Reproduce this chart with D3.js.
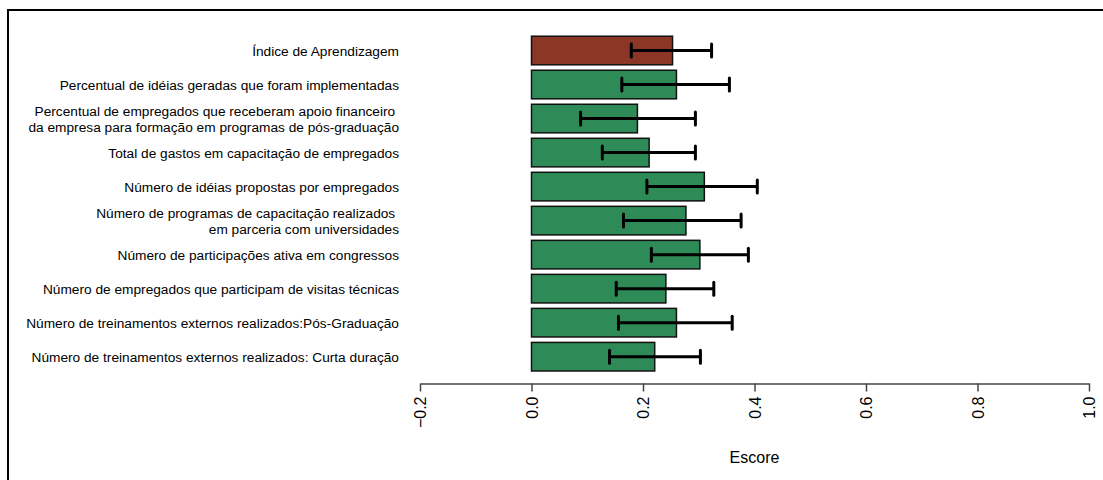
<!DOCTYPE html>
<html>
<head>
<meta charset="utf-8">
<script src="https://cdn.jsdelivr.net/npm/d3@7"></script>
<style>
  html, body { margin: 0; padding: 0; background: #fff; }
  svg { display: block; }
  text { font-family: "Liberation Sans", Arial, sans-serif; }
</style>
</head>
<body>
<svg id="chart" width="1103" height="480"></svg>
<script>
// Indicators, from top to bottom (line breaks split long labels)
const categories = [
  "Índice de Aprendizagem",
  "Percentual de idéias geradas que foram implementadas",
  "Percentual de empregados que receberam apoio financeiro \nda empresa para formação em programas de pós-graduação",
  "Total de gastos em capacitação de empregados",
  "Número de idéias propostas por empregados",
  "Número de programas de capacitação realizados \nem parceria com universidades",
  "Número de participações ativa em congressos",
  "Número de empregados que participam de visitas técnicas",
  "Número de treinamentos externos realizados:Pós-Graduação",
  "Número de treinamentos externos realizados: Curta duração"
];

// Score of each indicator and its interval limits
const scores = [0.253, 0.260, 0.190, 0.211, 0.310, 0.277, 0.302, 0.241, 0.260, 0.221];
const lower  = [0.179, 0.162, 0.088, 0.127, 0.207, 0.165, 0.215, 0.152, 0.156, 0.140];
const upper  = [0.323, 0.355, 0.294, 0.294, 0.405, 0.376, 0.389, 0.327, 0.360, 0.303];

const tickValues = [-0.2, 0.0, 0.2, 0.4, 0.6, 0.8, 1.0];
const axisTitle = "Escore";

const svg = d3.select("#chart");

// Outer frame
svg.append("path")
  .attr("d", "M1103,10 H8 V480")
  .attr("fill", "none")
  .attr("stroke", "#000")
  .attr("stroke-width", 2);

const x = d3.scaleLinear().domain([-0.2, 1.0]).range([420, 1089]);
const y = d3.scaleBand()
  .domain(categories)
  .range([33.5, 373.7])
  .paddingInner(0.16)
  .paddingOuter(0.08);

const rows = categories.map((c, i) => ({
  label: c, score: scores[i], lo: lower[i], hi: upper[i], first: i === 0
}));

// Bars
svg.append("g").selectAll("rect")
  .data(rows)
  .join("rect")
  .attr("x", d => x(0))
  .attr("y", d => y(d.label))
  .attr("width", d => x(d.score) - x(0))
  .attr("height", y.bandwidth())
  .attr("fill", d => d.first ? "#8B3626" : "#2E8B57")
  .attr("stroke", "#111")
  .attr("stroke-width", 1.5);

// Interval whiskers
const whisk = svg.append("g").attr("stroke", "#000").attr("stroke-width", 3);
rows.forEach(d => {
  const cy = y(d.label) + y.bandwidth() / 2;
  whisk.append("line").attr("x1", x(d.lo)).attr("x2", x(d.hi)).attr("y1", cy).attr("y2", cy);
  [d.lo, d.hi].forEach(v => {
    whisk.append("line")
      .attr("x1", x(v)).attr("x2", x(v))
      .attr("y1", cy - 6.5).attr("y2", cy + 6.5)
      .attr("stroke-linecap", "round");
  });
});

// Category labels, right aligned next to the bars
const labels = svg.append("g");
rows.forEach(d => {
  const lines = d.label.split("\n");
  const cy = y(d.label) + y.bandwidth() / 2 + 0.5;
  const lh = 15.5;
  const t = labels.append("text")
    .attr("text-anchor", "end")
    .attr("font-size", 13.7)
    .attr("fill", "#000")
    .style("white-space", "pre");
  lines.forEach((ln, k) => {
    t.append("tspan")
      .attr("x", 399)
      .attr("y", cy + (k - (lines.length - 1) / 2) * lh)
      .attr("dy", "0.35em")
      .text(ln);
  });
});

// Horizontal axis with rotated tick labels
const axis = svg.append("g")
  .attr("transform", "translate(0,383.5)")
  .call(d3.axisBottom(x).tickValues(tickValues).tickFormat(d3.format(".1f")).tickSize(8).tickSizeOuter(0));
axis.select(".domain").attr("stroke", "#444").attr("stroke-width", 1.5);
axis.selectAll(".tick line").attr("stroke", "#444").attr("stroke-width", 1.5);
axis.selectAll(".tick text")
  .attr("font-size", 16)
  .attr("font-family", "Liberation Sans, Arial, sans-serif")
  .attr("fill", "#000")
  .attr("transform", "rotate(-90)")
  .attr("text-anchor", "end")
  .attr("x", -13)
  .attr("y", 0)
  .attr("dy", "0.35em");

svg.append("text")
  .attr("x", x(0.4))
  .attr("y", 463)
  .attr("text-anchor", "middle")
  .attr("font-size", 16)
  .text(axisTitle);
</script>
</body>
</html>
